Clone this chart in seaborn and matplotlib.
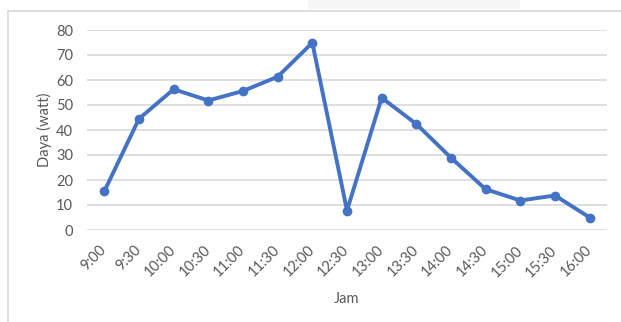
import matplotlib
matplotlib.use("Agg")
import matplotlib.pyplot as plt
import matplotlib.patches as mpatches
import seaborn as sns
import pandas as pd

# Power output readings, every half hour
jam = ["9:00", "9:30", "10:00", "10:30", "11:00", "11:30", "12:00", "12:30",
       "13:00", "13:30", "14:00", "14:30", "15:00", "15:30", "16:00"]
daya = [15.5, 44.5, 56.3, 51.8, 55.6, 61.3, 74.9, 7.8,
        52.9, 42.4, 28.9, 16.3, 11.8, 13.8, 5.0]
y_ticks = [0, 10, 20, 30, 40, 50, 60, 70, 80]

sns.set_theme(style="white")
plt.rcParams["font.family"] = ["Lato", "DejaVu Sans"]

df = pd.DataFrame({"Jam": jam, "Daya": daya})

W, H = 621, 322
fig = plt.figure(figsize=(W / 100, H / 100), dpi=100)
fig.patch.set_facecolor("white")

# chart frame and light strip at the top
fig.add_artist(mpatches.Rectangle((308 / W, 1 - 9 / H), 212 / W, 9 / H,
                                  transform=fig.transFigure, facecolor="#f7f7f7",
                                  edgecolor="none", zorder=0))
fig.add_artist(plt.Line2D([8 / W, 8 / W], [0, 1 - 10.5 / H], transform=fig.transFigure,
                          color="#d9d9d9", lw=1.2))
fig.add_artist(plt.Line2D([8 / W, 1], [1 - 10.5 / H, 1 - 10.5 / H], transform=fig.transFigure,
                          color="#d9d9d9", lw=1.2))

ax = fig.add_axes([87 / W, 92 / H, (607 - 87) / W, 200 / H])
ax.set_facecolor("white")

sns.lineplot(data=df, x="Jam", y="Daya", ax=ax, color="#4472C4", linewidth=2.8,
             marker="o", markersize=7, markeredgewidth=0, sort=False)

ax.set_xlim(-0.5, len(jam) - 0.5)
ax.set_ylim(0, 80)
ax.set_yticks(y_ticks)
ax.yaxis.grid(True, color="#d9d9d9", linewidth=1.2)
ax.set_axisbelow(True)
for s in ax.spines.values():
    s.set_visible(False)

ax.tick_params(axis="y", length=0, pad=10, labelsize=10.5, labelcolor="#595959")
ax.tick_params(axis="x", length=0, pad=13, labelsize=10.5, labelcolor="#595959")
for lbl in ax.get_xticklabels():
    lbl.set_rotation(45)
    lbl.set_ha("right")
    lbl.set_va("center")
    lbl.set_rotation_mode("anchor")

ax.set_xlabel("Jam", fontsize=10.5, color="#595959", labelpad=9)
ax.set_ylabel("Daya (watt)", fontsize=10.5, color="#595959", labelpad=3)

fig.savefig("out.png", dpi=100, facecolor="white")
